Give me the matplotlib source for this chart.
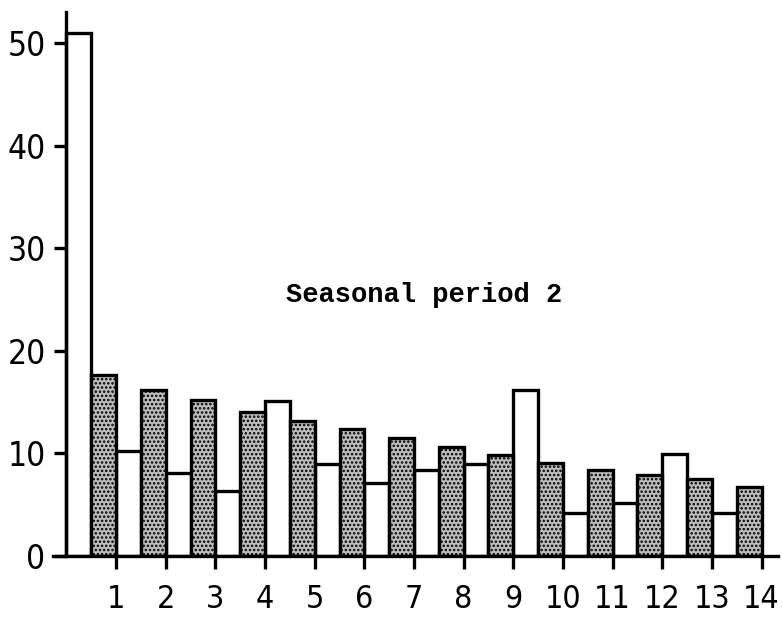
import matplotlib
matplotlib.use('Agg')
import matplotlib.pyplot as plt
import numpy as np

# Data
white_pos = np.arange(0, 14)
white_values = [51.0, 10.2, 8.1, 6.3, 15.1, 9.0, 7.1, 8.4, 9.0, 16.2, 4.2, 5.2, 9.9, 4.2]
gray_pos = np.arange(1, 15)
gray_values = [17.6, 16.2, 15.2, 14.0, 13.2, 12.4, 11.5, 10.6, 9.8, 9.1, 8.4, 7.9, 7.5, 6.7]
x_ticks = list(range(1, 15))
y_ticks = [0, 10, 20, 30, 40, 50]
label = 'Seasonal period 2'

plt.rcParams['font.family'] = ['DejaVu Sans']
plt.rcParams['font.stretch'] = 'condensed'
plt.rcParams['hatch.linewidth'] = 1.2

fig = plt.figure(figsize=(7.82, 6.18), dpi=100)
ax = fig.add_axes([0.0678, 0.1003, 0.927, 0.880])

bar_width = 0.5
ax.bar(white_pos, white_values, bar_width, align='edge', color='white',
       edgecolor='black', linewidth=2.4)
ax.bar(gray_pos - bar_width, gray_values, bar_width, align='edge', color='#bdbdbd',
       edgecolor='black', linewidth=2.4, hatch='....')

ax.set_xlim(-0.27, 14.33)
ax.set_ylim(0, 53)

for s in ['top', 'right']:
    ax.spines[s].set_visible(False)
ax.spines['left'].set_position(('data', 0))
ax.spines['left'].set_linewidth(2.4)
ax.spines['bottom'].set_linewidth(2.4)

ax.set_xticks(x_ticks)
ax.set_xticklabels([str(t) for t in x_ticks])
ax.set_yticks(y_ticks)
ax.tick_params(axis='x', length=9, width=2.4, pad=11, labelsize=23)
ax.tick_params(axis='y', length=9, width=2.4, pad=6, labelsize=24)

ax.text(7.2, 25.4, label, fontfamily='Liberation Mono', fontweight='bold',
        fontsize=19.5, ha='center', va='center')

fig.savefig('out.png', dpi=100)
